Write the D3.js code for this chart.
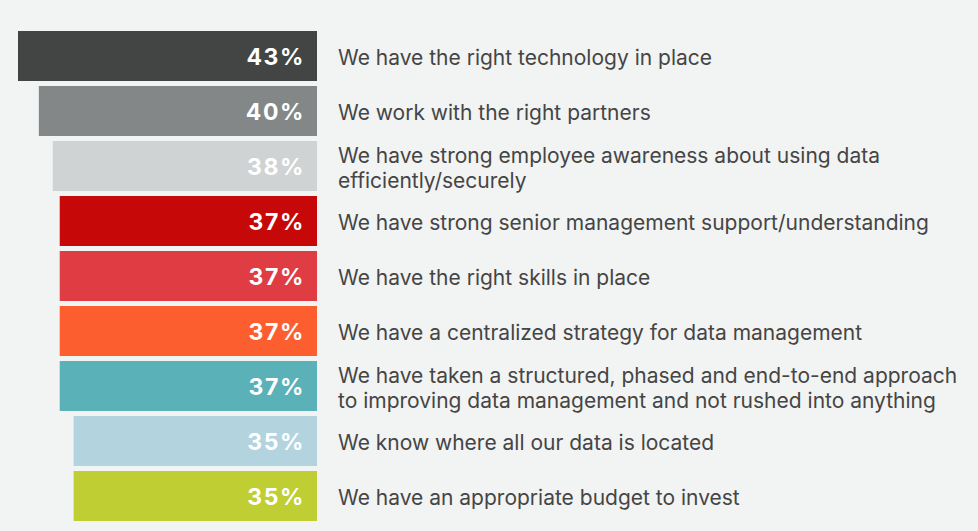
<!DOCTYPE html>
<html lang="en">
<head>
    <meta charset="UTF-8">
    <title>Data management readiness</title>
    <script src="https://d3js.org/d3.v7.min.js"></script>
    <style>
        body { margin: 0; background: #f2f3f3; }
        .pct {
            font-family: Inter, "Noto Sans", sans-serif;
            font-size: 23px;
            font-weight: 700;
            letter-spacing: 1.6px;
            fill: #ffffff;
            text-anchor: end;
        }
        .label {
            font-family: Inter, "Noto Sans", sans-serif;
            font-size: 21px;
            fill: #454545;
        }
    </style>
</head>
<body>
<svg width="978" height="531"></svg>
<script>
    const statements = [
        ["We have the right technology in place"],
        ["We work with the right partners"],
        ["We have strong employee awareness about using data", "efficiently/securely"],
        ["We have strong senior management support/understanding"],
        ["We have the right skills in place"],
        ["We have a centralized strategy for data management"],
        ["We have taken a structured, phased and end-to-end approach", "to improving data management and not rushed into anything"],
        ["We know where all our data is located"],
        ["We have an appropriate budget to invest"]
    ];
    const values = [43, 40, 38, 37, 37, 37, 37, 35, 35];
    const colors = ["#434545", "#838788", "#d0d3d4", "#c70808", "#e03c44", "#fd5e30", "#5ab1b8", "#b3d3df", "#bfce32"];

    const width = 978;
    const height = 531;
    const barRight = 317;

    const svg = d3.select("svg")
        .attr("width", width)
        .attr("height", height);

    // bars grow leftwards from a common right edge
    const x = d3.scaleLinear()
        .domain([0, 43])
        .range([0, 299]);

    const y = d3.scaleBand()
        .domain(d3.range(values.length))
        .range([31, 521])
        .paddingInner(5 / 55)
        .paddingOuter(0);

    const row = svg.selectAll("g.row")
        .data(values)
        .enter().append("g")
        .attr("class", "row")
        .attr("transform", (d, i) => `translate(0,${y(i)})`);

    row.append("rect")
        .attr("x", d => barRight - x(d))
        .attr("y", 0)
        .attr("width", d => x(d))
        .attr("height", y.bandwidth())
        .attr("fill", (d, i) => colors[i]);

    row.append("text")
        .attr("class", "pct")
        .attr("x", barRight - 12)
        .attr("y", y.bandwidth() / 2)
        .attr("dy", "0.38em")
        .text(d => d + "%");

    const label = row.append("text")
        .attr("class", "label")
        .attr("x", 338)
        .attr("y", y.bandwidth() / 2);

    label.selectAll("tspan")
        .data((d, i) => statements[i].map((t, j, arr) => ({ t, j, n: arr.length })))
        .enter().append("tspan")
        .attr("x", 338)
        .attr("dy", d => d.j === 0 ? (0.45 - (d.n - 1) * 0.6) + "em" : "1.2em")
        .text(d => d.t);
</script>
</body>
</html>
